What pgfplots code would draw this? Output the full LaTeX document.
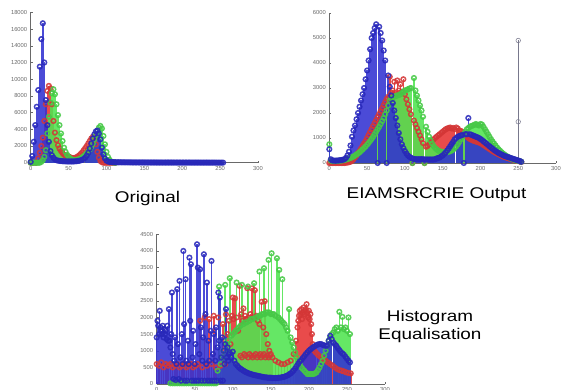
\documentclass[border=0pt]{standalone}
\usepackage{pgfplots}
\pgfplotsset{compat=1.18}
\usepackage{pgfplotstable}
\usepackage{graphicx}
\usepackage{fontspec}
\setmainfont{Liberation Sans}
\definecolor{sb}{RGB}{50,50,210}
\definecolor{mb}{RGB}{40,40,185}
\definecolor{sr}{RGB}{230,50,50}
\definecolor{mr}{RGB}{212,55,55}
\definecolor{sg}{RGB}{80,228,80}
\definecolor{mg}{RGB}{70,200,70}
\definecolor{ax}{RGB}{105,105,105}
\definecolor{sgray}{RGB}{120,120,140}
\pgfplotsset{
  histo/.style={
    scale only axis, clip=false,
    axis x line=bottom, axis y line=left,
    axis line style={-, ax, line width=0.5pt},
    xmin=0, xmax=300, xtick={0,50,...,300}, ymin=0,
    tick align=inside, major tick length=2pt,
    tick style={ax, line width=0.4pt},
    ticklabel style={font=\fontsize{5.8}{6}\selectfont, text=ax},
    /pgf/number format/assume math mode=true,
    /pgf/number format/1000 sep={},
    scaled y ticks=false,
  },
  stem/.style={ycomb, line width=1.5pt, mark=o, mark size=2.3pt, mark options={solid, line width=0.4pt}},
  stemR/.style={stem, draw=sr, opacity=0.88, mark options={draw=mr}},
  stemG/.style={stem, draw=sg, opacity=0.88, mark options={draw=mg}},
  stemB/.style={stem, draw=sb, opacity=0.88, mark options={draw=mb}},
}
\pgfplotstableread{
x r g b
0 0 0 100
2 0 0 800
4 0 0 2500
6 0 0 4500
8 0 0 6700
10 500 0 8700
12 1200 0 11500
14 2000 100 14800
16 3000 300 16700
18 5000 700 12000
20 7000 1500 7500
22 8600 3500 4500
24 9200 5500 2500
26 8900 7200 1400
28 7000 8300 900
30 5000 8800 600
32 3600 8200 400
34 2700 7000 300
36 2100 5700 250
38 1700 4500 220
40 1400 3500 200
42 1150 2600 180
44 950 1800 170
46 850 1300 160
48 780 950 150
50 750 700 150
52 650 520 150
54 580 400 150
56 550 330 150
58 570 300 160
60 630 310 180
62 740 360 200
64 880 430 230
66 1050 520 280
68 1250 640 350
70 1500 780 450
72 1750 950 600
74 2000 1150 850
76 2300 1350 1200
78 2600 1600 1700
80 2900 1900 2300
82 3100 2300 2900
84 2900 2800 3400
86 2200 3300 3750
88 1300 3800 3850
90 600 4200 3500
92 200 4400 2800
94 60 4100 1800
96 0 3200 1000
98 0 2200 500
100 0 1300 250
102 0 700 150
104 0 350 100
106 0 150 80
108 0 60 70
110 0 20 60
112 0 0 55
114 0 0 50
116 0 0 50
118 0 0 48
120 0 0 45
122 0 0 45
124 0 0 42
126 0 0 40
128 0 0 40
130 0 0 38
132 0 0 36
134 0 0 35
136 0 0 35
138 0 0 33
140 0 0 32
142 0 0 30
144 0 0 30
146 0 0 30
148 0 0 28
150 0 0 28
152 0 0 27
154 0 0 26
156 0 0 25
158 0 0 25
160 0 0 24
162 0 0 24
164 0 0 23
166 0 0 23
168 0 0 22
170 0 0 22
172 0 0 21
174 0 0 21
176 0 0 20
178 0 0 20
180 0 0 20
182 0 0 19
184 0 0 19
186 0 0 18
188 0 0 18
190 0 0 18
192 0 0 17
194 0 0 17
196 0 0 17
198 0 0 16
200 0 0 16
202 0 0 16
204 0 0 15
206 0 0 15
208 0 0 15
210 0 0 15
212 0 0 14
214 0 0 14
216 0 0 14
218 0 0 14
220 0 0 13
222 0 0 13
224 0 0 13
226 0 0 13
228 0 0 12
230 0 0 12
232 0 0 12
234 0 0 12
236 0 0 11
238 0 0 11
240 0 0 11
242 0 0 11
244 0 0 10
246 0 0 10
248 0 0 10
250 0 0 10
252 0 0 10
254 0 0 10
}\orig
\pgfplotstableread{
x r g b
0 0 750 550
2 0 100 150
4 0 80 100
6 0 80 100
8 0 80 90
10 0 80 100
12 0 90 100
14 0 90 110
16 0 100 120
18 0 110 130
20 0 120 150
22 10 140 200
24 20 160 300
26 30 180 450
28 50 200 700
30 80 230 1050
32 150 260 1300
34 220 300 1500
36 300 340 1750
38 400 380 2000
40 480 430 2250
42 580 480 2500
44 680 540 2750
46 780 600 3000
48 880 660 3350
50 1000 730 3700
52 1120 800 4100
54 1240 880 4550
56 1360 960 5000
58 1480 1050 5200
60 1600 1150 5400
62 1720 1250 5550
64 1840 1350 0
66 1960 1450 5450
68 2080 1560 5200
70 2200 1680 4900
72 2320 1800 4500
74 2440 1950 4100
76 2560 2100 0
78 2650 2300 3500
80 3450 2500 3050
82 2800 2580 2700
84 2900 2620 2400
86 3250 2650 2100
88 2750 2680 1800
90 3300 2700 1500
92 2900 2720 1200
94 3150 2750 950
96 2850 2800 750
98 3350 2850 600
100 2750 2900 480
102 2550 2920 380
104 2350 2950 300
106 2150 2980 250
108 1950 3000 210
110 0 0 180
112 1700 3400 160
114 1550 2900 150
116 1400 2700 150
118 1250 2500 150
120 1100 2300 150
122 950 2100 150
124 800 1850 150
126 0 0 140
128 650 1450 140
130 680 1250 140
132 750 1050 140
134 820 900 140
136 880 780 140
138 940 680 140
140 1000 600 150
142 1050 550 180
144 1100 500 200
146 1150 470 220
148 1200 450 260
150 1250 440 300
152 1300 435 360
154 1350 430 420
156 1380 435 500
158 1400 450 580
160 1420 470 670
162 1380 500 760
164 1400 540 850
166 1350 600 950
168 1420 670 1000
170 1380 750 1050
172 1300 850 1080
174 1280 950 1100
176 1250 1050 1120
178 1150 1150 0
180 1100 1250 1150
182 1050 1350 1150
184 1000 1400 1800
186 960 1450 1150
188 930 1480 1130
190 900 1500 1100
192 880 1530 1080
194 860 1560 1050
196 840 1520 1030
198 820 1500 1000
200 800 1560 960
202 760 1540 920
204 720 1450 870
206 680 1350 820
208 640 1250 770
210 600 1150 720
212 560 1050 670
214 520 950 620
216 480 860 570
218 440 780 520
220 410 700 480
222 380 620 440
224 350 550 400
226 320 490 370
228 290 430 340
230 260 380 310
232 240 330 280
234 220 290 260
236 200 250 240
238 180 220 220
240 160 190 200
242 140 160 180
244 120 140 160
246 100 120 140
248 90 100 120
250 80 90 100
252 60 70 80
254 40 50 50
}\eiam
\begin{document}
\begin{tikzpicture}[x=1pt,y=1pt]
\useasboundingbox (0,0) rectangle (562,389);
% ---------- Original ----------
\begin{axis}[histo, at={(30.7pt,226.3pt)}, anchor=south west,
  width=227.3pt, height=150.3pt, ymax=18000, ytick={0,2000,...,18000}]
\addplot[stemR, restrict x to domain=0:112] table[x=x,y=r]{\orig};
\addplot[stemG, restrict x to domain=0:112] table[x=x,y=g]{\orig};
\addplot[stemB] table[x=x,y=b]{\orig};
\end{axis}
% ---------- EIAMSRCRIE ----------
\begin{axis}[histo, at={(329.3pt,226pt)}, anchor=south west,
  width=226.7pt, height=150pt, ymax=6000, ytick={0,1000,...,6000}]
\addplot[stemR] table[x=x,y=r]{\eiam};
\addplot[stemG] table[x=x,y=g]{\eiam};
\addplot[stemB] table[x=x,y=b]{\eiam};
\addplot[ycomb, draw=sgray, line width=0.9pt, mark=o, mark size=2.3pt, mark options={draw=sgray, line width=0.5pt}] coordinates {(250,4900) (250,1650)};
\end{axis}
% ---------- Histogram equalisation ----------
\begin{axis}[histo, at={(156.7pt,5pt)}, anchor=south west,
  width=228.3pt, height=149.7pt, ymax=4500, ytick={0,500,...,4500}]
\addplot[stemR] coordinates {
(0,600)(3,550)(6,650)(9,500)(12,600)(15,550)(18,600)(21,500)(24,550)(27,600)(30,500)(33,550)(36,600)(39,500)(42,550)(45,600)(48,500)(51,550)(54,600)(57,1900)(60,500)(63,2000)(66,550)(69,1950)(72,600)(75,2050)(78,500)(81,2000)(84,550)(87,1800)(90,600)
(91,2090)(93,1500)(95,1900)(97,1200)(99,2050)(100,2600)(101,1950)(103,2575)(105,2000)(107,1600)(109,2950)(111,2100)(113,1900)(114,2270)(116,2050)(118,1950)(119,2880)(121,2000)(123,2100)(125,2875)(127,2000)(129,2820)(131,2050)(133,1900)(135,1800)(138,2470)(140,1700)(142,2490)(144,1500)(146,1200)(148,1000)(150,900)
(110,850)(112,800)(115,900)(117,850)(120,800)(122,900)(124,850)(126,800)(128,850)(130,900)(132,800)(134,850)(136,900)(137,800)(139,850)(141,900)(143,800)(145,850)(147,800)(149,850)
(152,800)(156,700)(160,650)(164,600)(168,600)(172,650)(176,700)(180,900)(183,1300)
(185,1700)(186,1900)(187,2050)(188,2200)(189,2100)(190,2250)(191,1950)(192,2150)(193,2300)(194,2100)(195,2200)(196,2250)(197,2400)(198,2150)(199,2000)(200,2200)(201,1950)(202,2100)(203,1800)(204,1500)(205,1200)
(207,1000)(209,950)(211,900)(213,850)(216,800)(219,750)(222,700)(225,650)(228,600)(231,550)(234,500)(237,450)(240,420)(243,400)(246,380)(249,350)(252,330)(255,320)
};
\addplot[stemG] coordinates {
(18,20)(21,20)(24,20)(27,20)(30,20)(33,20)(36,20)(39,20)(42,20)(45,20)(48,20)(51,20)(54,20)(57,20)(60,20)(63,20)(66,20)(69,20)(72,20)(75,20)(78,20)
(80,400)(82,2930)(84,600)(86,800)(88,1000)(90,2980)(92,1200)(94,1300)(96,3180)(98,1450)(100,1500)(102,1550)(104,1600)(105,3050)(106,1650)(108,1700)(110,1750)(112,2980)(114,1800)(116,1850)(118,1850)(120,2930)(122,1900)(124,1950)(126,1950)(128,3030)(130,2000)(132,2000)(134,2050)(135,3380)(136,2050)(138,2100)(140,2100)(141,3480)(142,2100)(144,2150)(146,2150)(147,3730)(148,2150)(150,2100)(151,3930)(152,2100)(154,2100)(156,2050)(158,3780)(160,2000)(161,3430)(162,1950)(164,1900)(165,3150)(166,1850)(168,1800)(170,1700)(172,1600)(174,2250)(176,1400)(178,1250)(180,1100)(182,950)(184,800)(186,700)(188,600)(190,500)(192,450)(194,400)(196,350)(198,300)(200,300)(202,300)(204,300)(206,300)(208,320)(210,350)(212,420)(214,500)(216,600)(218,700)(220,850)(222,1000)(224,1150)(226,1300)(228,1400)(230,1500)(232,1550)(234,1650)(236,1700)(238,1600)(240,2170)(242,1700)(244,2020)(246,1650)(248,1700)(250,1600)(252,2000)(254,1500)
};
\addplot[stemB] coordinates {
(0,1400)(1,1900)(2,1750)(3,1500)(4,2200)(5,1700)(6,1600)(7,1500)(8,1750)(9,1400)(10,1650)(11,1500)(12,1600)(13,1350)(14,1750)(15,1300)(16,2250)(17,1300)(18,1100)(19,1500)(20,2750)
(21,900)(22,150)(23,700)(24,1400)(25,120)(26,600)(27,2850)(28,1200)(29,150)(30,3100)(31,800)(32,100)(33,1500)(34,600)(35,4000)(36,1800)(37,100)(38,3150)(39,700)(40,100)(41,1300)(42,600)(43,3800)(44,1900)(45,3600)(46,100)(47,800)(48,1600)(49,100)(50,600)(51,1200)(52,100)(53,4200)(54,3500)(55,100)(56,900)(57,3450)(58,1700)(59,100)(60,700)(61,1400)(62,3900)(63,100)(64,2100)(65,600)(66,3050)(67,100)(68,1300)(69,700)(70,100)(71,1600)(72,3700)(73,100)(74,900)(75,1500)(76,100)(77,700)(78,1700)(79,100)(80,1100)(81,2750)(82,1300)(83,2600)(84,100)(85,800)(86,1400)(87,100)(88,1000)(89,600)(90,1200)(91,2250)(92,800)(93,1100)(94,700)(95,900)
(96,950)(98,800)(100,970)(102,700)(104,600)(106,550)(108,500)(110,460)(112,430)(114,400)(116,370)(118,350)(120,330)(122,310)(124,300)(126,280)(128,270)(130,260)(132,250)(134,240)(136,230)(138,220)(140,210)(142,200)(144,200)(146,190)(148,190)(150,190)(152,180)(154,180)(156,180)(158,180)(160,190)(162,190)(164,200)(166,210)(168,220)(170,240)(172,260)(174,290)(176,320)(178,360)(180,410)(182,470)(184,540)(186,610)(188,680)(190,720)(192,780)(194,840)(196,900)(198,950)(200,1000)(202,1040)(204,1080)(206,1110)(208,1140)(210,1170)(212,1190)(214,1200)(216,1200)(218,1180)(220,1160)(222,1150)(224,1150)(226,1300)(228,1450)(230,1350)(232,1250)(234,1200)(236,1150)(238,1080)(240,1020)(242,960)(244,920)(246,880)(248,820)(250,760)(252,700)(254,650)
};
\end{axis}
% ---------- captions ----------
\node[anchor=base] at (147.5,186.7) {\scalebox{1.22}[1]{\fontsize{15.5}{18}\selectfont Original}};
\node[anchor=base] at (436.5,190.7) {\scalebox{1.22}[1]{\fontsize{15.5}{18}\selectfont EIAMSRCRIE Output}};
\node[anchor=base] at (430,68) {\scalebox{1.22}[1]{\fontsize{15.5}{18}\selectfont Histogram}};
\node[anchor=base] at (430,50) {\scalebox{1.22}[1]{\fontsize{15.5}{18}\selectfont Equalisation}};
\end{tikzpicture}
\end{document}
